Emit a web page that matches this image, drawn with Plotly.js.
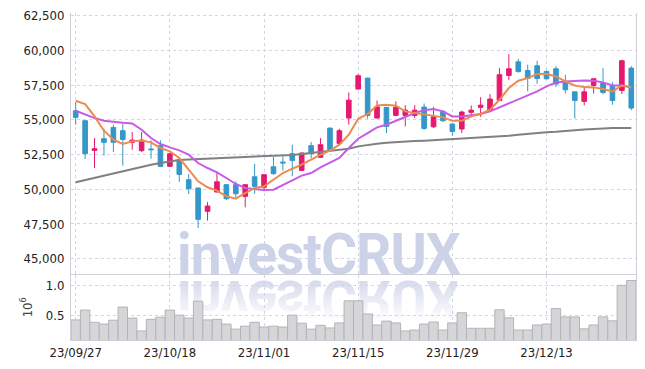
<!DOCTYPE html>
<html>
<head>
<meta charset="utf-8">
<script src="https://cdn.plot.ly/plotly-3.0.1.min.js"></script>
<style>
  html, body { margin: 0; padding: 0; background: #fff; }
  #wrap { position: relative; width: 645px; height: 369px; overflow: hidden; }
  #chart { position: absolute; left: 0; top: 0; width: 645px; height: 369px; z-index: 2; }
  #wm { position: absolute; left: 177px; top: 231px; width: 295px; height: 46px; z-index: 1; white-space: nowrap;
        font-family: Roboto, "DejaVu Sans", sans-serif; font-weight: 700; font-size: 58px;
        letter-spacing: -1px; color: #ccd2e7; line-height: 46px; transform-origin: left top;
        transform: scaleX(0.95);
        -webkit-box-reflect: below 1px linear-gradient(to bottom, rgba(0,0,0,0) 5%, rgba(0,0,0,0.85)); }
</style>
</head>
<body>
<div id="wrap">
  <div id="wm">investCRUX</div>
  <div id="chart"></div>
</div>
<script>
const dates = ["23/09/27","23/10/04","23/10/05","23/10/06","23/10/10","23/10/11","23/10/12","23/10/13","23/10/16","23/10/17",
  "23/10/18","23/10/19","23/10/20","23/10/23","23/10/24","23/10/25","23/10/26","23/10/27","23/10/30","23/10/31",
  "23/11/01","23/11/02","23/11/03","23/11/06","23/11/07","23/11/08","23/11/09","23/11/10","23/11/13","23/11/14",
  "23/11/15","23/11/16","23/11/17","23/11/20","23/11/21","23/11/22","23/11/23","23/11/24","23/11/27","23/11/28",
  "23/11/29","23/11/30","23/12/01","23/12/04","23/12/05","23/12/06","23/12/07","23/12/08","23/12/11","23/12/12",
  "23/12/13","23/12/14","23/12/15","23/12/18","23/12/19","23/12/20","23/12/21","23/12/22","23/12/26","23/12/27"];

const openP = [55650,54940,52800,53640,54450,54220,53380,52780,52900,53140,
  51650,52130,50690,50090,48410,49800,50330,50330,49490,50900,
  50140,51620,51960,52560,51360,53140,52300,54410,53300,55130,
  57220,58010,55130,55900,55320,55320,55320,55920,54500,55610,
  54700,54340,55540,55900,55680,56400,58200,59180,58560,58900,
  58490,58680,57770,57020,56330,57480,57650,57480,57120,58730];
const highP = [56300,54950,53690,54360,54650,54700,54120,54120,53520,53520,
  52600,52250,51100,50100,49080,51290,50350,50570,50350,51820,
  51050,52340,52370,53210,52650,53400,53690,54420,54360,56980,
  58300,58020,56400,55920,56330,56060,56060,56180,55920,55680,
  54720,55660,56040,56640,56860,58730,59740,59400,58970,59260,
  58560,58870,58250,57030,57340,57980,58730,57720,59330,58870];
const lowP = [54650,52180,51530,52420,52680,51700,52850,52680,52200,51600,
  51600,50520,49660,47210,47740,49780,49220,49420,48700,49680,
  49850,51050,51340,50930,51300,52250,52280,52730,53210,54650,
  57200,55080,55100,54050,55250,54530,55130,54290,54410,54840,
  53860,54050,55180,55220,55610,56380,57860,58390,57050,57600,
  57900,57360,56900,55080,56040,56900,56860,56090,56860,55700];
const closeP = [55180,52560,52920,53380,53380,53590,53540,53540,52850,51650,
  52560,51070,50040,47830,48790,50540,49320,49680,50330,50210,
  51050,51120,51900,52080,52610,52560,53210,52850,54220,56420,
  58180,55320,55940,54530,55900,55700,55700,54380,55220,54940,
  54170,55560,55700,56060,56500,58250,58680,58490,57980,57980,
  57960,57580,57170,56400,57020,57960,56980,56400,59260,55850];
const ma5 = [56380,56140,55250,54220,53570,53260,53450,53520,53380,52970,
  52730,52250,51410,50570,50140,49900,49490,49320,49730,50090,
  50210,50690,51170,51480,51770,52130,52490,52780,53210,53930,
  55080,55420,56040,56090,56020,55610,55490,55370,55300,55180,
  54940,54940,55250,55420,55730,56450,57290,57820,58010,58300,
  58300,58130,57770,57480,57360,57340,57220,57050,57480,57340];
const ma10 = [55660,55370,55130,54940,54840,54790,54740,54290,53690,53260,
  53020,52800,52490,51890,51530,51220,50810,50380,50090,50040,
  49940,49970,50280,50640,50980,51170,51580,51890,52250,52970,
  53640,54050,54460,54650,54940,55250,55490,55700,55780,55610,
  55250,55250,55320,55420,55610,55900,56210,56450,56760,57050,
  57410,57700,57770,57820,57840,57820,57700,57480,57480,57340];
const maLong = [50500,50660,50830,50980,51140,51340,51500,51650,51770,51890,
  52010,52100,52150,52180,52200,52220,52250,52270,52300,52320,
  52350,52370,52420,52470,52540,52610,52680,52780,52850,52920,
  53090,53210,53280,53350,53400,53470,53470,53500,53540,53570,
  53590,53620,53660,53690,53740,53780,53860,53930,54000,54050,
  54100,54140,54220,54260,54310,54360,54410,54410,54410,54410];
const volume = [0.42,0.585,0.38,0.35,0.415,0.635,0.45,0.235,0.43,0.465,
  0.585,0.50,0.45,0.735,0.42,0.43,0.35,0.265,0.315,0.38,
  0.30,0.315,0.30,0.50,0.365,0.265,0.33,0.285,0.37,0.74,
  0.74,0.52,0.335,0.40,0.37,0.235,0.25,0.35,0.385,0.25,
  0.37,0.54,0.28,0.28,0.28,0.59,0.455,0.25,0.25,0.335,
  0.35,0.61,0.47,0.47,0.27,0.335,0.47,0.405,1.00,1.08];
const tickDates = ["23/09/27","23/10/18","23/11/01","23/11/15","23/11/29","23/12/13"];
const priceTicks = [45000,47500,50000,52500,55000,57500,60000,62500];
const volTicks = [0.5, 1.0];
const volTickText = ["0.5", "1.0"];

const FONT = '"DejaVu Sans Condensed", "Liberation Sans Narrow", "Roboto", sans-serif';
const GRID = '#d2d5e6';
const BORDER = '#d0d0d8';

const traces = [
  { type: 'scatter', mode: 'lines', x: dates, y: maLong, xaxis: 'x', yaxis: 'y',
    line: { color: '#808080', width: 2 }, hoverinfo: 'skip' },
  { type: 'candlestick', x: dates, open: openP, high: highP, low: lowP, close: closeP,
    xaxis: 'x', yaxis: 'y', whiskerwidth: 0,
    increasing: { line: { color: '#e5196d', width: 1 }, fillcolor: '#e5196d' },
    decreasing: { line: { color: '#3597c9', width: 1 }, fillcolor: '#3597c9' } },
  { type: 'scatter', mode: 'lines', x: dates, y: ma10, xaxis: 'x', yaxis: 'y',
    line: { color: '#c95ae8', width: 2 }, hoverinfo: 'skip' },
  { type: 'scatter', mode: 'lines', x: dates, y: ma5, xaxis: 'x', yaxis: 'y',
    line: { color: '#ef8a4e', width: 2 }, hoverinfo: 'skip' },
  { type: 'bar', x: dates, y: volume, xaxis: 'x', yaxis: 'y2',
    marker: { color: '#d6d6d8', line: { color: '#b4b4b8', width: 1 } } }
];

const layout = {
  width: 645, height: 369,
  margin: { l: 71, r: 9, t: 13, b: 29 },
  paper_bgcolor: 'rgba(0,0,0,0)', plot_bgcolor: 'rgba(0,0,0,0)',
  showlegend: false, bargap: 0,
  font: { family: FONT, size: 13, color: '#222' },
  xaxis: { type: 'category', anchor: 'y2', range: [-0.5, 59.5],
    tickvals: tickDates, ticktext: tickDates, ticks: '',
    showgrid: true, gridcolor: GRID, griddash: 'dot', gridwidth: 1,
    showline: true, linecolor: BORDER, mirror: true,
    rangeslider: { visible: false }, tickfont: { family: FONT, size: 13, color: '#222' } },
  yaxis: { domain: [0.2, 1], range: [43850, 62700], tickvals: priceTicks,
    tickformat: ',d', ticks: '', ticklabelstandoff: 3,
    showgrid: true, gridcolor: GRID, griddash: 'dot', gridwidth: 1, zeroline: false,
    showline: true, linecolor: BORDER, mirror: true,
    tickfont: { family: FONT, size: 13, color: '#222' } },
  yaxis2: { domain: [0, 0.2], range: [0.083, 1.18], tickvals: volTicks, ticktext: volTickText,
    ticks: '', ticklabelstandoff: 3,
    showgrid: true, gridcolor: GRID, griddash: 'dot', gridwidth: 1, zeroline: false,
    showline: true, linecolor: BORDER, mirror: true,
    title: { text: '10<sup>6</sup>', standoff: 10, font: { family: FONT, size: 13, color: '#444' } },
    tickfont: { family: FONT, size: 13, color: '#222' } }
};

Plotly.newPlot('chart', traces, layout, { displayModeBar: false, staticPlot: true });
</script>
</body>
</html>
